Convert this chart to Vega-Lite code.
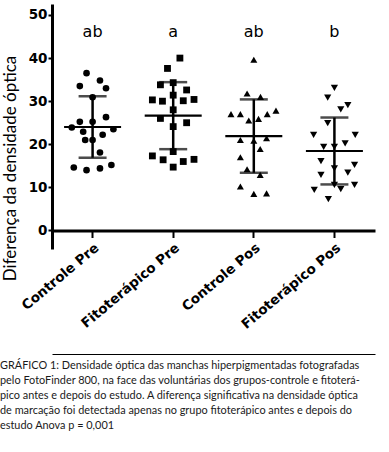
{
  "$schema": "https://vega.github.io/schema/vega-lite/v6.json",
  "width": 323,
  "height": 245,
  "autosize": {"type": "none"},
  "padding": {"left": 52, "top": 4, "right": 14, "bottom": 203},
  "background": "white",
  "config": {"view": {"stroke": null}, "axis": {"grid": false}},
  "datasets": {
    "pts": [
      {"grupo": "Controle Pre", "valor": 36.5, "slot": -0.9},
      {"grupo": "Controle Pre", "valor": 33.5, "slot": -1.9},
      {"grupo": "Controle Pre", "valor": 34.8, "slot": 1.1},
      {"grupo": "Controle Pre", "valor": 33.0, "slot": 2.0},
      {"grupo": "Controle Pre", "valor": 30.9, "slot": 0},
      {"grupo": "Controle Pre", "valor": 25.2, "slot": -1.9},
      {"grupo": "Controle Pre", "valor": 25.2, "slot": 0},
      {"grupo": "Controle Pre", "valor": 26.3, "slot": 2.0},
      {"grupo": "Controle Pre", "valor": 23.9, "slot": -3.1},
      {"grupo": "Controle Pre", "valor": 23.5, "slot": 3.1},
      {"grupo": "Controle Pre", "valor": 22.9, "slot": -1.4},
      {"grupo": "Controle Pre", "valor": 22.2, "slot": 1.5},
      {"grupo": "Controle Pre", "valor": 21.0, "slot": -1.1},
      {"grupo": "Controle Pre", "valor": 21.0, "slot": 0},
      {"grupo": "Controle Pre", "valor": 18.1, "slot": 1.1},
      {"grupo": "Controle Pre", "valor": 14.6, "slot": -2.8},
      {"grupo": "Controle Pre", "valor": 14.0, "slot": -0.9},
      {"grupo": "Controle Pre", "valor": 14.4, "slot": 1.1},
      {"grupo": "Controle Pre", "valor": 15.2, "slot": 2.8},
      {"grupo": "Fitoterápico Pre", "valor": 40.0, "slot": 1.0},
      {"grupo": "Fitoterápico Pre", "valor": 37.6, "slot": -0.85},
      {"grupo": "Fitoterápico Pre", "valor": 33.8, "slot": -1.9},
      {"grupo": "Fitoterápico Pre", "valor": 34.3, "slot": 0},
      {"grupo": "Fitoterápico Pre", "valor": 32.6, "slot": 2.0},
      {"grupo": "Fitoterápico Pre", "valor": 30.3, "slot": -3.1},
      {"grupo": "Fitoterápico Pre", "valor": 30.0, "slot": -1.6},
      {"grupo": "Fitoterápico Pre", "valor": 31.4, "slot": 0},
      {"grupo": "Fitoterápico Pre", "valor": 30.1, "slot": 1.5},
      {"grupo": "Fitoterápico Pre", "valor": 30.4, "slot": 3.1},
      {"grupo": "Fitoterápico Pre", "valor": 28.0, "slot": 0},
      {"grupo": "Fitoterápico Pre", "valor": 26.0, "slot": -1.9},
      {"grupo": "Fitoterápico Pre", "valor": 25.0, "slot": 2.0},
      {"grupo": "Fitoterápico Pre", "valor": 24.1, "slot": 0},
      {"grupo": "Fitoterápico Pre", "valor": 18.3, "slot": 0},
      {"grupo": "Fitoterápico Pre", "valor": 17.3, "slot": -3.1},
      {"grupo": "Fitoterápico Pre", "valor": 16.4, "slot": -1.5},
      {"grupo": "Fitoterápico Pre", "valor": 14.7, "slot": 0},
      {"grupo": "Fitoterápico Pre", "valor": 16.0, "slot": 1.5},
      {"grupo": "Fitoterápico Pre", "valor": 16.5, "slot": 3.1},
      {"grupo": "Controle Pos", "valor": 39.6, "slot": 0},
      {"grupo": "Controle Pos", "valor": 31.8, "slot": -1.0},
      {"grupo": "Controle Pos", "valor": 31.0, "slot": 1.0},
      {"grupo": "Controle Pos", "valor": 27.0, "slot": -3.4},
      {"grupo": "Controle Pos", "valor": 27.0, "slot": -2.0},
      {"grupo": "Controle Pos", "valor": 25.5, "slot": -0.75},
      {"grupo": "Controle Pos", "valor": 25.9, "slot": 0.7},
      {"grupo": "Controle Pos", "valor": 27.0, "slot": 2.0},
      {"grupo": "Controle Pos", "valor": 27.8, "slot": 3.3},
      {"grupo": "Controle Pos", "valor": 21.0, "slot": -2.0},
      {"grupo": "Controle Pos", "valor": 20.8, "slot": 0},
      {"grupo": "Controle Pos", "valor": 21.4, "slot": 1.9},
      {"grupo": "Controle Pos", "valor": 18.9, "slot": 0.95},
      {"grupo": "Controle Pos", "valor": 17.0, "slot": -2.0},
      {"grupo": "Controle Pos", "valor": 14.2, "slot": -1.0},
      {"grupo": "Controle Pos", "valor": 12.9, "slot": 0.95},
      {"grupo": "Controle Pos", "valor": 10.2, "slot": -2.0},
      {"grupo": "Controle Pos", "valor": 8.5, "slot": 0},
      {"grupo": "Controle Pos", "valor": 8.6, "slot": 1.9},
      {"grupo": "Fitoterápico Pos", "valor": 33.1, "slot": 0},
      {"grupo": "Fitoterápico Pos", "valor": 30.8, "slot": -1.0},
      {"grupo": "Fitoterápico Pos", "valor": 29.1, "slot": 2.0},
      {"grupo": "Fitoterápico Pos", "valor": 28.1, "slot": 0.95},
      {"grupo": "Fitoterápico Pos", "valor": 24.9, "slot": -1.0},
      {"grupo": "Fitoterápico Pos", "valor": 22.2, "slot": -3.1},
      {"grupo": "Fitoterápico Pos", "valor": 22.2, "slot": 3.1},
      {"grupo": "Fitoterápico Pos", "valor": 19.4, "slot": -1.6},
      {"grupo": "Fitoterápico Pos", "valor": 19.4, "slot": 0},
      {"grupo": "Fitoterápico Pos", "valor": 20.2, "slot": 1.6},
      {"grupo": "Fitoterápico Pos", "valor": 16.1, "slot": -2.0},
      {"grupo": "Fitoterápico Pos", "valor": 14.4, "slot": 0},
      {"grupo": "Fitoterápico Pos", "valor": 15.2, "slot": 3.0},
      {"grupo": "Fitoterápico Pos", "valor": 13.4, "slot": 2.0},
      {"grupo": "Fitoterápico Pos", "valor": 12.9, "slot": -2.0},
      {"grupo": "Fitoterápico Pos", "valor": 9.4, "slot": -3.0},
      {"grupo": "Fitoterápico Pos", "valor": 10.6, "slot": 0},
      {"grupo": "Fitoterápico Pos", "valor": 9.6, "slot": 0.95},
      {"grupo": "Fitoterápico Pos", "valor": 10.6, "slot": 3.0},
      {"grupo": "Fitoterápico Pos", "valor": 7.3, "slot": -0.9}
    ],
    "letras": [
      {"grupo": "Controle Pre", "letra": "ab"},
      {"grupo": "Fitoterápico Pre", "letra": "a"},
      {"grupo": "Controle Pos", "letra": "ab"},
      {"grupo": "Fitoterápico Pos", "letra": "b"}
    ]
  },
  "title": {
    "text": [
      "GRÁFICO 1: Densidade óptica das manchas hiperpigmentadas fotografadas",
      "pelo FotoFinder 800, na face das voluntárias dos grupos-controle e fitoterá-",
      "pico antes e depois do estudo. A diferença significativa na densidade óptica",
      "de marcação foi detectada apenas no grupo fitoterápico antes e depois do",
      "estudo Anova p = 0,001"
    ],
    "orient": "bottom",
    "anchor": "start",
    "frame": "bounds",
    "font": "Lato",
    "fontSize": 10.9,
    "fontWeight": "normal",
    "color": "#1a1a1a",
    "lineHeight": 15,
    "baseline": "top",
    "offset": 6,
    "dx": -1
  },
  "layer": [
    {
      "data": {"name": "pts"},
      "mark": {"type": "point", "filled": true, "color": "black", "opacity": 1},
      "encoding": {
        "x": {
          "field": "grupo", "type": "nominal",
          "sort": ["Controle Pre", "Fitoterápico Pre", "Controle Pos", "Fitoterápico Pos"],
          "scale": {"type": "band", "paddingInner": 0.417, "paddingOuter": 0.212},
          "axis": {
            "title": null, "orient": "bottom", "offset": -18.5,
            "labelAngle": -40, "labelFont": "DejaVu Sans", "labelFontWeight": "bold",
            "labelFontSize": 13.5, "labelColor": "black", "labelPadding": 3,
            "domainColor": "black", "domainWidth": 3,
            "tickColor": "black", "tickWidth": 2, "tickSize": 7
          }
        },
        "xOffset": {"field": "slot", "type": "quantitative", "scale": {"domain": [-3.5, 3.5]}},
        "y": {
          "field": "valor", "type": "quantitative",
          "scale": {"domain": [-4.3, 52.55], "nice": false, "zero": false},
          "axis": {
            "title": "Diferença da densidade óptica",
            "values": [0, 10, 20, 30, 40, 50],
            "domainColor": "black", "domainWidth": 3,
            "tickColor": "black", "tickWidth": 2, "tickSize": 4,
            "labelFont": "DejaVu Sans", "labelFontWeight": "bold", "labelFontSize": 13.5,
            "labelColor": "black", "labelPadding": 1,
            "titleFont": "Lato", "titleFontSize": 17, "titleFontWeight": "normal",
            "titleColor": "black", "titleX": -42, "titleY": 164, "titleAngle": -90,
            "titleAlign": "center", "titleBaseline": "middle"
          }
        },
        "shape": {
          "field": "grupo", "type": "nominal",
          "scale": {"domain": ["Controle Pre", "Fitoterápico Pre", "Controle Pos", "Fitoterápico Pos"],
                    "range": ["circle", "square", "triangle-up", "triangle-down"]},
          "legend": null
        },
        "size": {
          "field": "grupo", "type": "nominal",
          "scale": {"domain": ["Controle Pre", "Fitoterápico Pre", "Controle Pos", "Fitoterápico Pos"],
                    "range": [44, 52, 46, 46]},
          "legend": null
        }
      }
    },
    {
      "data": {"name": "pts"},
      "mark": {"type": "tick", "color": "black", "size": 57, "thickness": 2.2, "opacity": 1},
      "encoding": {
        "x": {"field": "grupo", "type": "nominal", "sort": ["Controle Pre", "Fitoterápico Pre", "Controle Pos", "Fitoterápico Pos"], "axis": null},
        "y": {"aggregate": "mean", "field": "valor", "type": "quantitative", "axis": null}
      }
    },
    {
      "data": {"name": "pts"},
      "mark": {"type": "errorbar", "extent": "stdev", "ticks": true, "size": 28, "thickness": 2.5, "color": "black"},
      "encoding": {
        "x": {"field": "grupo", "type": "nominal", "sort": ["Controle Pre", "Fitoterápico Pre", "Controle Pos", "Fitoterápico Pos"], "axis": null},
        "y": {"field": "valor", "type": "quantitative", "axis": null}
      }
    },
    {
      "data": {"name": "letras"},
      "mark": {"type": "text", "font": "DejaVu Sans", "fontSize": 16, "color": "black", "baseline": "middle", "align": "center"},
      "encoding": {
        "x": {
          "field": "grupo", "type": "nominal", "sort": ["Controle Pre", "Fitoterápico Pre", "Controle Pos", "Fitoterápico Pos"],
          "axis": {"orient": "bottom", "offset": 105, "domain": true, "domainColor": "black", "domainWidth": 1,
                   "ticks": false, "labels": false, "title": null}
        },
        "y": {"datum": 46.1, "type": "quantitative", "axis": null},
        "text": {"field": "letra"}
      }
    }
  ],
  "resolve": {"axis": {"x": "independent", "y": "independent"}}
}
